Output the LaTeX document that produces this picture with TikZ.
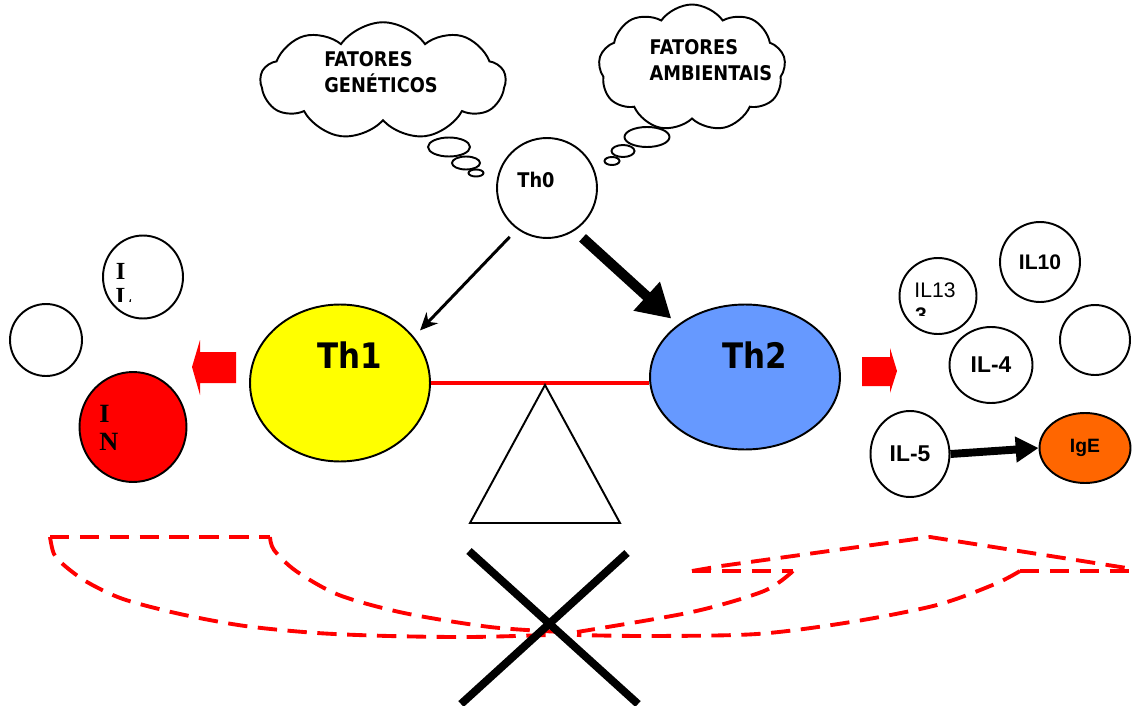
\documentclass[tikz,border=0pt]{standalone}
\usepackage{fontspec}
\setmainfont{Liberation Sans}
\newfontfamily\cloudfont{DejaVu Sans}[FakeStretch=0.88]
\newfontfamily\serifbfont{Liberation Serif}
\usetikzlibrary{shapes.geometric,shapes.symbols,arrows.meta}
\definecolor{thyellow}{HTML}{FFFF00}
\definecolor{thblue}{HTML}{6699FF}
\definecolor{igeorange}{HTML}{FF6600}
\tikzset{
  cell/.style={ellipse, draw, line width=1.1pt, inner sep=0pt},
  bubble/.style={ellipse, draw, line width=1.1pt, inner sep=0pt},
  thought/.style={cloud, draw, line width=1.1pt, cloud puffs=9, cloud puff arc=110},
  cloudtxt/.style={font=\cloudfont\bfseries\fontsize{11.5}{15}\selectfont, align=left},
  thtxt/.style={font=\cloudfont\bfseries\fontsize{20}{20}\selectfont},
  iltxt/.style={font=\bfseries\fontsize{13}{13}\selectfont},
  serifb/.style={font=\serifbfont\bfseries\fontsize{15}{16}\selectfont, align=left},
  bowl/.style={red, line width=2.2pt, dash pattern=on 11pt off 6pt}
}
\begin{document}
\begin{tikzpicture}[x=0.02cm,y=-0.02cm]
  \useasboundingbox (0,0) rectangle (1133,706);

  % Thought clouds
  \node[thought, aspect=2.09, minimum width=4.9cm, minimum height=2.35cm] (genet) at (383,81) {};
  \node[cloudtxt] (genettxt) at (381,72) {FATORES\\GENÉTICOS};
  \node[bubble, minimum width=0.84cm, minimum height=0.38cm] (gb1) at (449,147) {};
  \node[bubble, minimum width=0.56cm, minimum height=0.26cm] (gb2) at (466,163) {};
  \node[bubble, minimum width=0.3cm, minimum height=0.14cm] (gb3) at (476,173) {};

  \node[thought, aspect=1.47, minimum width=3.74cm, minimum height=2.54cm] (ambi) at (692,68) {};
  \node[cloudtxt] (ambitxt) at (711,60) {FATORES\\AMBIENTAIS};
  \node[bubble, minimum width=0.9cm, minimum height=0.4cm] (ab1) at (647,137) {};
  \node[bubble, minimum width=0.46cm, minimum height=0.24cm] (ab2) at (623,151) {};
  \node[bubble, minimum width=0.3cm, minimum height=0.16cm] (ab3) at (612,161) {};

  % T helper cells
  \node[cell, minimum size=2cm] (th0) at (547,188) {};
  \node[font=\cloudfont\bfseries\fontsize{11.5}{12}\selectfont] (th0txt) at (536,180) {Th0};
  \node[cell, fill=thyellow, minimum width=3.6cm, minimum height=3.14cm] (th1) at (340,383) {};
  \node[thtxt] (th1txt) at (350,355) {Th1};
  \node[cell, fill=thblue, minimum width=3.8cm, minimum height=2.9cm] (th2) at (745,377) {};
  \node[thtxt] (th2txt) at (755,355) {Th2};

  \draw[line width=1.7pt, -{Stealth[length=10pt,width=9pt]}, shorten <=6pt, shorten >=5pt] (th0.234) -- (th1.32);
  \draw[line width=5.8pt, -{Triangle[length=19pt,width=21pt]}, shorten <=6pt, shorten >=5pt] (th0.-57) -- (th2.142);

  % Balance
  \draw[red, line width=2pt] (th1.east) -- (th1.east -| th2.west);
  \draw[line width=1.1pt] (545,385) -- (620,523) -- (470,523) -- cycle;

  % Th1 side
  \fill[red] (236,352) -- (200,352) -- (200,340) -- (192,367) -- (200,395) -- (200,383) -- (236,383) -- cycle;
  \node[cell, minimum width=1.6cm, minimum height=1.66cm] (iltop) at (143,277) {};
  \begin{scope}
    \clip (100,240) rectangle (180,301);
    \node[serifb, font=\serifbfont\bfseries\fontsize{14}{14}\selectfont] (iltoptxt) at (124,284) {I\\L};
  \end{scope}
  \node[cell, minimum size=1.44cm] (empl) at (46,340) {};
  \node[cell, fill=red, minimum width=2.14cm, minimum height=2.2cm] (ifn) at (133,427) {};
  \node[serifb] (ifntxt) at (109,428) {I\\N};

  % Th2 side
  \fill[red] (862,357) -- (890,357) -- (890,348) -- (897,371) -- (890,393) -- (890,386) -- (862,386) -- cycle;
  \node[cell, minimum width=1.54cm, minimum height=1.52cm] (il13) at (938,296) {};
  \node[font=\fontsize{12}{12}\selectfont] (il13txt) at (935,290) {IL13};
  \begin{scope}
    \clip (900,300) rectangle (960,315);
    \node[font=\bfseries\fontsize{12}{12}\selectfont] (il13b) at (921,315) {3};
  \end{scope}
  \node[cell, iltxt, font=\bfseries\fontsize{12}{12}\selectfont, minimum size=1.6cm] (il10) at (1040,262) {IL10};
  \node[cell, minimum size=1.4cm] (empr) at (1095,340) {};
  \node[cell, iltxt, minimum width=1.66cm, minimum height=1.52cm] (il4) at (991,365) {IL-4};
  \node[cell, iltxt, minimum width=1.58cm, minimum height=1.72cm] (il5) at (910,454) {IL-5};
  \node[cell, fill=igeorange, font=\bfseries\fontsize{11}{11}\selectfont, minimum width=1.82cm, minimum height=1.4cm] (ige) at (1085,448) {IgE};
  \draw[line width=4.5pt, -{Triangle[length=13pt,width=14pt]}] (il5.east) -- (ige.west);

  % Dashed bowls
  \draw[bowl] (50,537) -- (270,537);
  \draw[bowl] plot[smooth] coordinates {(50,537) (54,554) (65,566) (87,582) (123,599) (180,614) (245,626) (317,633) (389,636) (470,637) (548,635)};
  \draw[bowl] plot[smooth] coordinates {(270,537) (274,550) (296,571) (339,595) (404,613) (490,627) (562,632)};
  \draw[bowl] (692,571) -- (721,566) -- (930,537) -- (1133,569);
  \draw[bowl] (692,571) -- (793,571);
  \draw[bowl] (1020,571) -- (1133,571);
  \draw[bowl] plot[smooth] coordinates {(793,571) (764,591) (692,612) (577,632)};
  \draw[bowl] plot[smooth] coordinates {(1020,571) (995,584) (937,605) (851,622) (757,634) (649,636) (577,635)};

  % Cross
  \draw[line width=4.5pt] (469,551) -- (638,704);
  \draw[line width=4.5pt] (627,553) -- (461,704);
\end{tikzpicture}
\end{document}
